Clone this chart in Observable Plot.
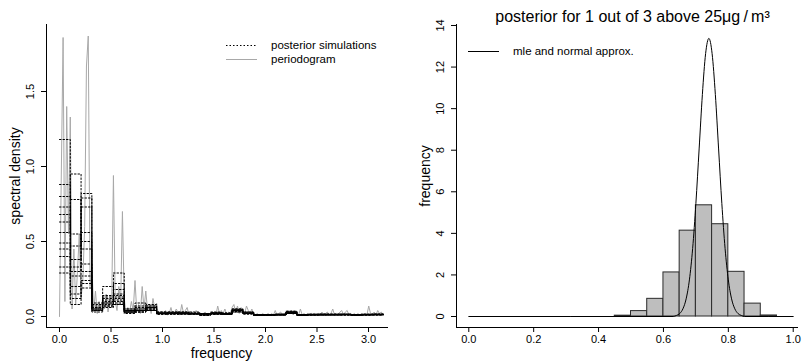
<!DOCTYPE html>
<html>
<head>
<meta charset="utf-8">
<script src="https://cdn.jsdelivr.net/npm/d3@7"></script>
<script src="https://cdn.jsdelivr.net/npm/@observablehq/plot@0.6"></script>
<style>
  html, body { margin: 0; padding: 0; background: #fff; }
  #wrap { position: relative; width: 803px; height: 362px; overflow: hidden;
          font-family: "Liberation Sans", Arial, Helvetica, sans-serif; }
  .panel { position: absolute; top: 0; }
  .leg { position: absolute; font-size: 11.5px; line-height: 14px; color: #000; white-space: nowrap; }
  #legsvg { position: absolute; left: 0; top: 0; pointer-events: none; }
</style>
</head>
<body>
<div id="wrap">
  <div id="left" class="panel" style="left:0px"></div>
  <div id="right" class="panel" style="left:400px"></div>
  <svg id="legsvg" width="803" height="362">
    <line x1="226" x2="257" y1="45.5" y2="45.5" stroke="#000" stroke-width="1" stroke-dasharray="1.5,2"></line>
    <line x1="226" x2="257" y1="59.5" y2="59.5" stroke="#a8a8a8" stroke-width="1"></line>
    <line x1="468" x2="499" y1="51.5" y2="51.5" stroke="#000" stroke-width="1"></line>
  </svg>
  <div class="leg" style="left:271px; top:38px">posterior simulations</div>
  <div class="leg" style="left:271px; top:52px">periodogram</div>
  <div class="leg" style="left:513px; top:44px">mle and normal approx.</div>
</div>
<script>
const FONT = '"Liberation Sans", Arial, Helvetica, sans-serif';

// ---------- left panel data ----------
// periodogram at Fourier frequencies k*pi/180, k = 0..180
const pgramStep = Math.PI / 180;
const periodogram = [0,
  0.95, 1.86, 0.10, 1.40, 0.55, 1.33,
  0.05, 0.45, 0.08, 0.30, 0.55, 0.12,
  0.25, 0.60, 1.67, 1.87, 0.20, 0.35,
  0.03, 0.17, 0.02, 0.10, 0.04, 0.12,
  0.05, 0.15, 0.03, 0.12, 0.06, 0.94,
  0.10, 0.04, 0.20, 0.08, 0.70, 0.12,
  0.02, 0.06, 0.03, 0.10, 0.04, 0.24,
  0.03, 0.08, 0.02, 0.20, 0.05, 0.17,
  0.04, 0.07, 0.02, 0.12, 0.05, 0.09,
  0.01, 0.03, 0.01, 0.02, 0.04, 0.01,
  0.02, 0.06, 0.01, 0.03, 0.05, 0.02,
  0.01, 0.08, 0.02, 0.04, 0.06, 0.01,
  0.02, 0.03, 0.01, 0.04, 0.02, 0.01,
  0.01, 0.02, 0.03, 0.01, 0.02, 0.01,
  0.02, 0.03, 0.01, 0.07, 0.02, 0.04,
  0.02, 0.05, 0.01, 0.03, 0.02, 0.06,
  0.08, 0.03, 0.07, 0.02, 0.06, 0.03,
  0.02, 0.07, 0.04, 0.02, 0.05, 0.01,
  0.01, 0.02, 0.01, 0.01, 0.02, 0.01,
  0.01, 0.02, 0.01, 0.02, 0.01, 0.04,
  0.01, 0.02, 0.03, 0.01, 0.02, 0.01,
  0.03, 0.02, 0.04, 0.01, 0.03, 0.02,
  0.01, 0.05, 0.01, 0.02, 0.01, 0.02,
  0.01, 0.02, 0.01, 0.02, 0.01, 0.02,
  0.01, 0.03, 0.01, 0.02, 0.03, 0.01,
  0.02, 0.05, 0.01, 0.02, 0.01, 0.03,
  0.04, 0.01, 0.03, 0.04, 0.01, 0.02,
  0.01, 0.02, 0.01, 0.02, 0.01, 0.02,
  0.01, 0.02, 0.01, 0.07, 0.02, 0.01,
  0.03, 0.01, 0.04, 0.02, 0.03, 0.01
];

// posterior simulations: piecewise-constant spectra on 30 blocks of width pi/30
// each row = one block, each column = one simulation (12 simulations)
const blockWidth = Math.PI / 30;
const simBlocks = [
  [0.56, 1.18, 0.40, 0.73, 0.29, 0.88, 0.49, 0.63, 0.33, 0.80, 0.45, 0.68],
  [0.95, 0.30, 0.20, 0.47, 0.12, 0.55, 0.27, 0.38, 0.08, 0.78, 0.15, 0.33],
  [0.30, 0.56, 0.22, 0.82, 0.27, 0.45, 0.35, 0.73, 0.19, 0.50, 0.24, 0.79],
  [0.05, 0.09, 0.04, 0.06, 0.03, 0.07, 0.05, 0.08, 0.04, 0.06, 0.05, 0.04],
  [0.20, 0.09, 0.12, 0.07, 0.14, 0.10, 0.08, 0.13, 0.06, 0.11, 0.09, 0.07],
  [0.12, 0.29, 0.10, 0.15, 0.08, 0.22, 0.13, 0.11, 0.09, 0.18, 0.14, 0.08],
  [0.03, 0.05, 0.04, 0.03, 0.05, 0.04, 0.03, 0.04, 0.02, 0.03, 0.04, 0.03],
  [0.04, 0.09, 0.03, 0.05, 0.07, 0.04, 0.03, 0.06, 0.04, 0.05, 0.03, 0.04],
  [0.06, 0.05, 0.08, 0.04, 0.07, 0.05, 0.06, 0.04, 0.07, 0.05, 0.04, 0.06],
  [0.02, 0.03, 0.02, 0.025, 0.015, 0.02, 0.03, 0.02, 0.025, 0.02, 0.015, 0.02],
  [0.02, 0.025, 0.015, 0.03, 0.02, 0.02, 0.025, 0.015, 0.02, 0.03, 0.02, 0.025],
  [0.025, 0.02, 0.03, 0.02, 0.015, 0.025, 0.02, 0.03, 0.02, 0.015, 0.025, 0.02],
  [0.02, 0.015, 0.02, 0.025, 0.02, 0.015, 0.02, 0.02, 0.03, 0.02, 0.015, 0.02],
  [0.01, 0.015, 0.01, 0.02, 0.01, 0.015, 0.01, 0.01, 0.02, 0.015, 0.01, 0.01],
  [0.02, 0.025, 0.015, 0.02, 0.03, 0.02, 0.015, 0.025, 0.02, 0.02, 0.025, 0.015],
  [0.015, 0.02, 0.02, 0.015, 0.02, 0.025, 0.015, 0.02, 0.015, 0.02, 0.02, 0.015],
  [0.04, 0.05, 0.03, 0.045, 0.035, 0.04, 0.05, 0.03, 0.04, 0.035, 0.045, 0.04],
  [0.02, 0.025, 0.02, 0.03, 0.02, 0.015, 0.025, 0.02, 0.02, 0.025, 0.02, 0.03],
  [0.01, 0.008, 0.012, 0.01, 0.008, 0.01, 0.012, 0.01, 0.008, 0.01, 0.01, 0.012],
  [0.01, 0.012, 0.01, 0.008, 0.012, 0.01, 0.01, 0.012, 0.01, 0.008, 0.012, 0.01],
  [0.012, 0.015, 0.01, 0.012, 0.015, 0.012, 0.01, 0.015, 0.012, 0.01, 0.015, 0.012],
  [0.025, 0.03, 0.02, 0.035, 0.025, 0.02, 0.03, 0.025, 0.02, 0.03, 0.025, 0.035],
  [0.01, 0.012, 0.008, 0.01, 0.012, 0.01, 0.008, 0.01, 0.012, 0.01, 0.008, 0.01],
  [0.012, 0.01, 0.015, 0.012, 0.01, 0.012, 0.015, 0.01, 0.012, 0.01, 0.012, 0.015],
  [0.015, 0.012, 0.01, 0.015, 0.012, 0.015, 0.01, 0.012, 0.015, 0.012, 0.01, 0.015],
  [0.012, 0.015, 0.012, 0.01, 0.015, 0.012, 0.012, 0.015, 0.01, 0.012, 0.015, 0.012],
  [0.015, 0.012, 0.015, 0.012, 0.01, 0.015, 0.012, 0.015, 0.012, 0.015, 0.012, 0.01],
  [0.01, 0.012, 0.01, 0.012, 0.01, 0.008, 0.012, 0.01, 0.012, 0.01, 0.012, 0.01],
  [0.012, 0.015, 0.012, 0.01, 0.015, 0.012, 0.01, 0.012, 0.015, 0.012, 0.01, 0.012],
  [0.015, 0.012, 0.015, 0.012, 0.015, 0.01, 0.015, 0.012, 0.01, 0.015, 0.012, 0.015]
];

const xTicksLeft = [0, 0.5, 1, 1.5, 2, 2.5, 3];
const yTicksLeft = [0, 0.5, 1, 1.5];

// ---------- right panel data ----------
const histStarts  = [0.45, 0.50, 0.55, 0.60, 0.65, 0.70, 0.75, 0.80, 0.85, 0.90];
const histHeights = [0.04, 0.26, 0.85, 2.12, 4.13, 5.35, 4.44, 2.15, 0.62, 0.05];
const binWidth = 0.05;

const normalX = [0, 0.63, 0.64, 0.65, 0.66, 0.67, 0.68, 0.69, 0.70, 0.71, 0.72, 0.73, 0.74,
                 0.75, 0.76, 0.77, 0.78, 0.79, 0.80, 0.81, 0.82, 0.83, 0.84, 0.85, 1.0];
const normalY = [0, 0, 0.05, 0.14, 0.37, 0.85, 1.76, 3.27, 5.44, 8.06, 10.68, 12.65, 13.38,
                 12.65, 10.68, 8.06, 5.44, 3.27, 1.76, 0.85, 0.37, 0.14, 0.05, 0, 0];

const xTicksRight = [0, 0.2, 0.4, 0.6, 0.8, 1.0];
const yTicksRight = [0, 2, 4, 6, 8, 10, 12, 14];

// ---------- build tables ----------
const pgramRows = periodogram.map((v, k) => ({f: k * pgramStep, v}));
const nSims = simBlocks[0].length;
const simRows = [];
for (let s = 0; s < nSims; s++) {
  for (let b = 0; b <= simBlocks.length; b++) {
    const row = simBlocks[Math.min(b, simBlocks.length - 1)];
    simRows.push({sim: s, f: b * blockWidth, v: row[s]});
  }
}
const histRows = histStarts.map((x0, i) => ({x0, x1: x0 + binWidth, h: histHeights[i]}));
const normalRows = normalX.map((x, i) => ({x, y: normalY[i]}));

const fmt1 = d3.format(".1f");

// ---------- left plot ----------
const LX = [-0.1262, 3.194], LY = [-0.0733, 1.9467];
const leftPlot = Plot.plot({
  width: 400, height: 362,
  marginLeft: 46, marginRight: 12, marginTop: 24, marginBottom: 35,
  style: {fontFamily: FONT, fontSize: "11px", color: "#000", background: "transparent", overflow: "visible"},
  x: {domain: LX},
  y: {domain: LY},
  marks: [
    Plot.line(pgramRows, {x: "f", y: "v", stroke: "#a8a8a8", strokeWidth: 1}),
    Plot.line(simRows, {x: "f", y: "v", z: "sim", curve: "step-after", stroke: "#000",
                        strokeWidth: 1, strokeDasharray: "1.5,2"}),
    Plot.ruleX([LX[0]], {stroke: "#000"}),
    Plot.ruleY([LY[0]], {stroke: "#000"}),
    Plot.axisX({ticks: xTicksLeft, tickSize: 5, tickPadding: 3, tickFormat: fmt1, fontSize: 11, label: null}),
    Plot.axisY({ticks: yTicksLeft, tickSize: 5, tickPadding: 8, tickRotate: -90, tickFormat: fmt1, fontSize: 11, label: null}),
    Plot.text(["spectral density"], {text: d => d, frameAnchor: "left", textAnchor: "middle", lineAnchor: "middle",
                                     rotate: -90, dx: -31, fontSize: 14}),
    Plot.text(["frequency"], {text: d => d, frameAnchor: "bottom", textAnchor: "middle", lineAnchor: "middle",
                              dy: 26, dx: 4, fontSize: 14})
  ]
});
document.getElementById("left").appendChild(leftPlot);

// ---------- right plot ----------
const RX = [-0.0379, 1.0163], RY = [-0.529, 14.048];
const rightPlot = Plot.plot({
  width: 403, height: 362,
  marginLeft: 56, marginRight: 5, marginTop: 24, marginBottom: 35,
  style: {fontFamily: FONT, fontSize: "11px", color: "#000", background: "transparent", overflow: "visible"},
  x: {domain: RX},
  y: {domain: RY},
  marks: [
    Plot.rectY(histRows, {x1: "x0", x2: "x1", y1: 0, y2: "h", fill: "#bebebe", stroke: "#2b2b2b", strokeWidth: 1}),
    Plot.line(normalRows, {x: "x", y: "y", curve: "monotone-x", stroke: "#000", strokeWidth: 1}),
    Plot.ruleX([RX[0]], {stroke: "#000"}),
    Plot.ruleY([RY[0]], {stroke: "#000"}),
    Plot.axisX({ticks: xTicksRight, tickSize: 5, tickPadding: 3, tickFormat: fmt1, fontSize: 11, label: null}),
    Plot.axisY({ticks: yTicksRight, tickSize: 5, tickPadding: 8, tickRotate: -90, tickFormat: d3.format("d"), fontSize: 11, label: null}),
    Plot.text(["frequency"], {text: d => d, frameAnchor: "left", textAnchor: "middle", lineAnchor: "middle",
                              rotate: -90, dx: -31, fontSize: 14}),
    Plot.text(["posterior for 1 out of 3 above 25\u03bcg\u2009/\u2009m\u00b3"], {text: d => d, frameAnchor: "top",
              textAnchor: "middle", lineAnchor: "middle", dy: -7.5, dx: 5, fontSize: 16})
  ]
});
document.getElementById("right").appendChild(rightPlot);
</script>
</body>
</html>
